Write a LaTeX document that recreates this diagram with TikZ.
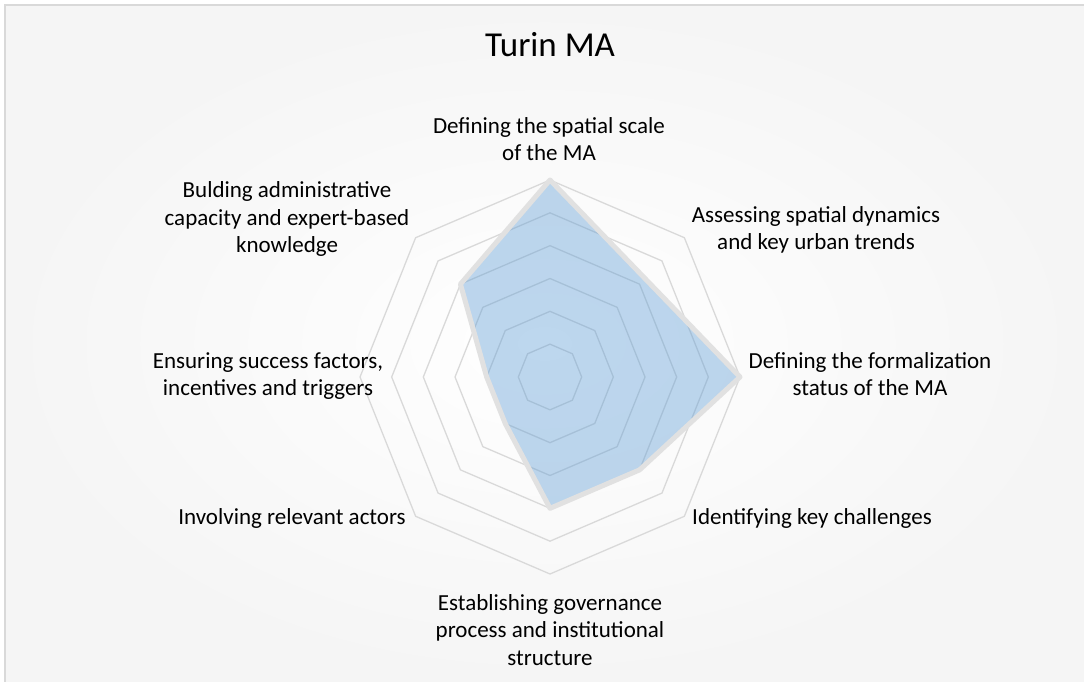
\documentclass[tikz,border=0pt]{standalone}
\usepackage{fontspec}
\setmainfont{Carlito}
\definecolor{ringgray}{HTML}{D9D9D9}
\definecolor{outlinegray}{HTML}{E1E1E1}
\definecolor{serblue}{HTML}{5B9BD5}
\definecolor{bordergray}{HTML}{D9D9D9}
\definecolor{bgedge}{HTML}{F5F5F5}
\tikzset{
  lbl/.style={align=center,font=\fontsize{23}{27.5}\selectfont,text=black,inner sep=0pt},
  ringline/.style={draw=ringgray,line width=1.3pt},
  seriesfill/.style={fill=serblue,fill opacity=0.4},
  seriesline/.style={draw=outlinegray,line width=5pt,line join=round}
}
\begin{document}
\begin{tikzpicture}[x=1pt,y=-1pt]
\useasboundingbox (0,0) rectangle (1084,682);
\fill[white] (0,0) rectangle (1084,682);
\shade[inner color=white,outer color=bgedge] (5,5) rectangle (1084,682);
\draw[bordergray,line width=1.6pt] (5,682) -- (5,5) -- (1084,5);
\node[font=\fontsize{35}{42}\selectfont,inner sep=0pt] (title) at (550,45) {Turin MA};
\begin{scope}[shift={(550,377)}]
  \foreach \k in {1,...,6} {
    \draw[ringline] (-90:{\k*190/6} and {\k*197/6})
      \foreach \i in {1,...,7} { -- ({45*\i-90}:{\k*190/6} and {\k*197/6}) } -- cycle;
  }
  \foreach \v [count=\i from 0] in {6,4.2426,6,4,4,2,2,4}
    \coordinate (p\i) at ({45*\i-90}:{\v*190/6} and {\v*197/6});
  \path[seriesfill] (p0) -- (p1) -- (p2) -- (p3) -- (p4) -- (p5) -- (p6) -- (p7) -- cycle;
  \path[seriesline] (p0) -- (p1) -- (p2) -- (p3) -- (p4) -- (p5) -- (p6) -- (p7) -- cycle;
\end{scope}
\node[lbl] (lN) at (549,139) {Defining the spatial scale\\of the MA};
\node[lbl] (lNE) at (816,230) {Assessing spatial dynamics\\and key urban trends};
\node[lbl] (lE) at (870,374) {Defining the formalization\\status of the MA};
\node[lbl] (lSE) at (812,518) {Identifying key challenges};
\node[lbl] (lS) at (550,630) {Establishing governance\\process and institutional\\structure};
\node[lbl] (lSW) at (292,518) {Involving relevant actors};
\node[lbl] (lW) at (268,376) {Ensuring success factors,\\incentives and triggers};
\node[lbl] (lNW) at (287,219) {Bulding administrative\\capacity and expert-based\\knowledge};
\end{tikzpicture}
\end{document}
